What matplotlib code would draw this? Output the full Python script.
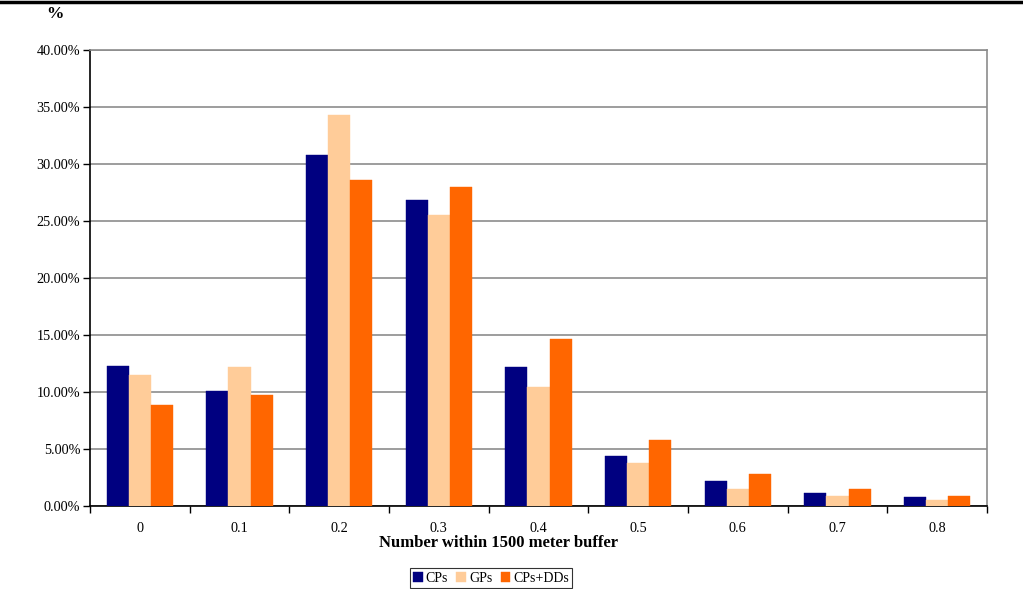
import matplotlib.pyplot as plt
import numpy as np
from matplotlib.lines import Line2D
from matplotlib.ticker import FixedLocator, PercentFormatter

plt.rcParams['font.family'] = ['Liberation Serif', 'DejaVu Serif']

categories = ['0', '0.1', '0.2', '0.3', '0.4', '0.5', '0.6', '0.7', '0.8']
cps = [12.3, 10.1, 30.75, 26.8, 12.2, 4.35, 2.15, 1.1, 0.72]
gps = [11.5, 12.2, 34.3, 25.5, 10.45, 3.75, 1.45, 0.85, 0.5]
cps_dds = [8.85, 9.7, 28.55, 28.0, 14.6, 5.75, 2.8, 1.45, 0.82]

series = [('CPs', cps, '#000080'), ('GPs', gps, '#FFCC99'), ('CPs+DDs', cps_dds, '#FF6600')]

fig = plt.figure(figsize=(10.23, 5.89), dpi=100)
ax = fig.add_axes([90 / 1023, 83.3 / 589, 897 / 1023, 455.7 / 589])

x = np.arange(len(categories))
w = 0.222
for i, (name, vals, col) in enumerate(series):
    ax.bar(x + (i - 1) * w, vals, w, color=col, label=name, zorder=3,
           edgecolor=col, linewidth=0.3)

ax.set_xlim(-0.5, len(categories) - 0.5)
ax.set_ylim(0, 40)
ax.set_yticks(np.arange(0, 41, 5))
ax.yaxis.set_major_formatter(PercentFormatter(decimals=2))
ax.grid(axis='y', color='#8c8c8c', linewidth=1.2, zorder=0)

ax.set_xticks(x)
ax.set_xticklabels(categories)
ax.xaxis.set_minor_locator(FixedLocator(np.arange(-0.5, len(categories), 1)))
ax.tick_params(axis='x', which='major', length=0, pad=12, labelsize=10.3)
ax.tick_params(axis='x', which='minor', length=5, direction='out', width=1)
ax.tick_params(axis='y', length=5, direction='out', width=1, labelsize=10.3, pad=2)

for s in ['left', 'bottom']:
    ax.spines[s].set_color('black')
    ax.spines[s].set_linewidth(1.2)
for s in ['right', 'top']:
    ax.spines[s].set_color('#8c8c8c')
    ax.spines[s].set_linewidth(1.2)

ax.set_xlabel('Number within 1500 meter buffer', fontsize=12, fontweight='bold')
ax.xaxis.set_label_coords(0.455, -37 / 455.7, transform=ax.transAxes)
ax.xaxis.label.set_va('center')
fig.text(55 / 1023, 1 - 14 / 589, '%', fontsize=12.5, fontweight='bold', ha='center', va='center')

# thick rule across the top of the page
fig.add_artist(Line2D([0, 1], [1 - 2 / 589, 1 - 2 / 589], color='black', linewidth=2.5))

leg = fig.legend(loc='center', bbox_to_anchor=(491 / 1023, 1 - 578 / 589), ncol=3,
                 fontsize=10, frameon=True, fancybox=False, edgecolor='black',
                 handlelength=0.7, handleheight=0.7, handletextpad=0.2,
                 columnspacing=0.6, borderpad=0.25, borderaxespad=0)
leg.get_frame().set_linewidth(0.8)

fig.savefig('out.png', dpi=100)
